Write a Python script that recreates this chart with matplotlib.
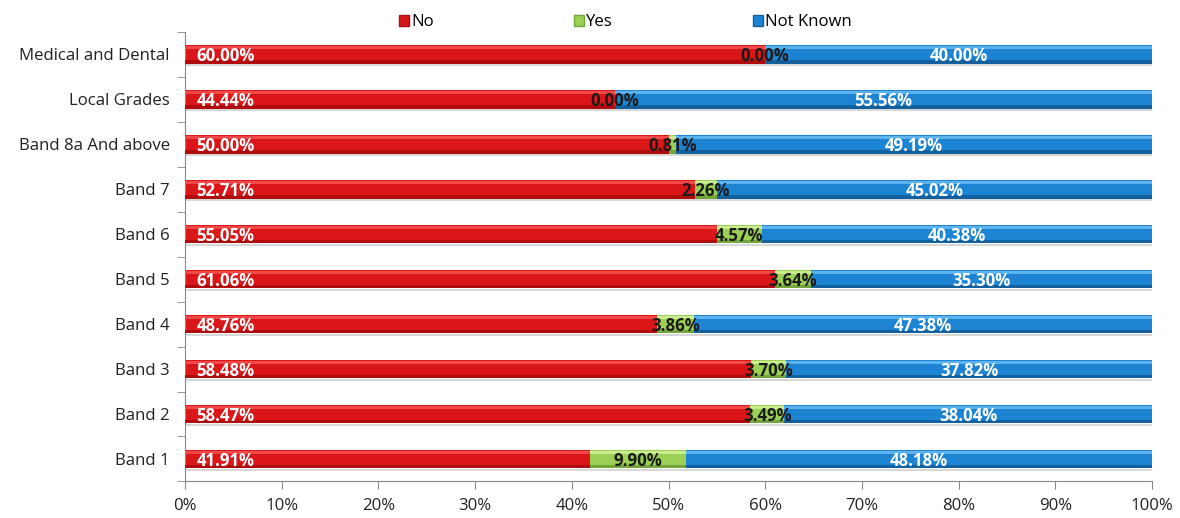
import matplotlib
matplotlib.use("Agg")
import matplotlib.pyplot as plt
import numpy as np
from matplotlib.patches import Patch

categories = ["Band 1", "Band 2", "Band 3", "Band 4", "Band 5", "Band 6",
              "Band 7", "Band 8a And above", "Local Grades", "Medical and Dental"]
no_vals = [41.91, 58.47, 58.48, 48.76, 61.06, 55.05, 52.71, 50.00, 44.44, 60.00]
yes_vals = [9.90, 3.49, 3.70, 3.86, 3.64, 4.57, 2.26, 0.81, 0.00, 0.00]
nk_vals = [48.18, 38.04, 37.82, 47.38, 35.30, 40.38, 45.02, 49.19, 55.56, 40.00]
series_names = ["No", "Yes", "Not Known"]
x_ticks = [0, 10, 20, 30, 40, 50, 60, 70, 80, 90, 100]

plt.rcParams['font.family'] = ['Open Sans', 'DejaVu Sans']
FS = 12.1

colors = {"No": ("#da1619", "#f24848", "#b00c0e"),
          "Yes": ("#9bcf55", "#c8ec8e", "#74a53a"),
          "Not Known": ("#1d84d4", "#5cb3ee", "#13609f")}

fig = plt.figure(figsize=(11.8, 5.18), dpi=100)
ax = fig.add_axes([0.1568, 0.0705, 0.8195, 0.8685])

y = np.arange(len(categories))
h = 0.42
totals = np.array(no_vals) + np.array(yes_vals) + np.array(nk_vals)
# soft drop shadow under each stacked bar
ax.barh(y - h * 0.58, totals, left=0, height=h * 0.12, color="#d8d8d8", edgecolor="none", zorder=1)
lefts = np.zeros(len(categories))
for name, vals in zip(series_names, [no_vals, yes_vals, nk_vals]):
    vals = np.array(vals)
    base, light, dark = colors[name]
    ax.barh(y, vals, left=lefts, height=h, color=base, edgecolor="none", zorder=2)
    # bevel shading: light upper strip, dark lower strip
    ax.barh(y + h * 0.36, vals, left=lefts, height=h * 0.14, color=light, edgecolor="none", zorder=3)
    ax.barh(y - h * 0.41, vals, left=lefts, height=h * 0.18, color=dark, edgecolor="none", zorder=3)
    lefts = lefts + vals

# value labels
lab_kw = dict(va="center", fontsize=FS, fontweight="bold", zorder=5)
for i in range(len(categories)):
    yy = y[i] - 0.04
    ax.text(1.2, yy, f"{no_vals[i]:.2f}%", ha="left", color="white", **lab_kw)
    ax.text(no_vals[i] + yes_vals[i] / 2, yy, f"{yes_vals[i]:.2f}%", ha="center",
            color="#1a1a1a", **lab_kw)
    ax.text(no_vals[i] + yes_vals[i] + nk_vals[i] / 2, yy, f"{nk_vals[i]:.2f}%", ha="center",
            color="white", **lab_kw)

ax.set_xlim(0, 100)
ax.set_ylim(-0.5, len(categories) - 0.5)
ax.set_xticks(x_ticks)
ax.set_xticklabels([f"{t}%" for t in x_ticks], fontsize=FS, color="#222222")
ax.set_yticks(y)
ax.set_yticklabels(categories, fontsize=FS, color="#222222")
ax.tick_params(axis="y", length=0, pad=11)
ax.set_yticks(np.arange(-0.5, len(categories), 1.0), minor=True)
ax.tick_params(axis="y", which="minor", length=6, color="#888888")
ax.tick_params(axis="x", length=6, color="#888888", direction="out", pad=6)
for s in ["top", "right"]:
    ax.spines[s].set_visible(False)
for s in ["left", "bottom"]:
    ax.spines[s].set_color("#888888")

handles = [Patch(facecolor=colors[n][0], edgecolor=colors[n][2]) for n in series_names]
fig.legend(handles, series_names, loc="upper center", bbox_to_anchor=(0.530, 1.002), ncol=3,
           frameon=False, fontsize=FS, handlelength=0.6, handleheight=0.6,
           handletextpad=0.15, columnspacing=8.3)

fig.savefig("out.png", dpi=100)
